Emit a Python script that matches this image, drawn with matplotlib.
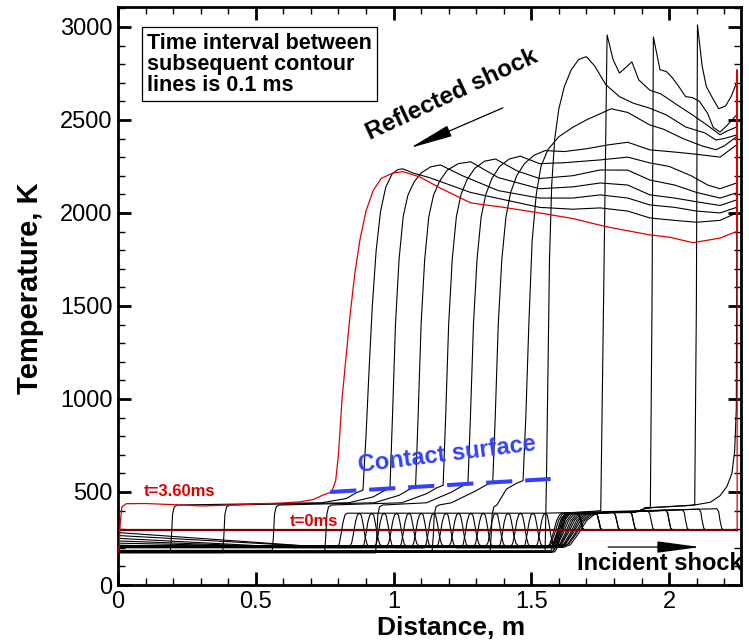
import matplotlib
matplotlib.use("Agg")
import matplotlib.pyplot as plt
from matplotlib.ticker import MultipleLocator

# ------------------------------------------------------------------
# Data (x in m, T in K)
# ------------------------------------------------------------------
X_WALL = 2.247
T_INITIAL = 295.0
T_WALL_TOP = 2770.0

x_ticks = [0, 0.5, 1, 1.5, 2]
x_tick_labels = ["0", "0.5", "1", "1.5", "2"]
y_ticks = [0, 500, 1000, 1500, 2000, 2500, 3000]
y_tick_labels = ["0", "500", "1000", "1500", "2000", "2500", "3000"]

# ---- incident-shock phase curves -------------------------------------------
fan_T0 = [282, 266, 251, 237, 225, 214, 205]          # T at x = 0 of the first curves
fan_x_end = [0.74, 0.70, 0.64, 0.56, 0.47, 0.36, 0.22]  # where they reach the cold band
inc_band_T = [204, 208, 201, 206, 210, 203, 207, 200, 205, 209, 202, 206, 211, 204, 208, 202, 206]
inc_bump_x = [0.830, 0.875, 0.920, 0.965, 1.010, 1.055, 1.100, 1.145, 1.190,
              1.235, 1.280, 1.325, 1.370, 1.415, 1.460, 1.505, 1.550]
inc_rise_x = [1.556, 1.560, 1.564, 1.568, 1.572, 1.576, 1.580, 1.584, 1.588,
              1.592, 1.596, 1.600, 1.604, 1.608, 1.612, 1.616, 1.620]
inc_rise_w = [0.055, 0.060, 0.065, 0.070, 0.075, 0.080, 0.085, 0.090, 0.095,
              0.100, 0.105, 0.110, 0.115, 0.120, 0.125, 0.130, 0.135]
inc_top_T = 386
inc_shock_x = [1.680, 1.745, 1.810, 1.870, 1.935, 2.000, 2.060, 2.120, 2.185]
inc_shock_T = [388, 390, 392, 395, 398, 402, 405, 408, 410]
inc_shock_of = [0, 0, 0, 0, 1, 1, 1, 2, 2, 3, 3, 4, 5, 5, 6, 7, 8]
# bump shape of the contact zone (offset from bump position, fraction of rise)
bump_dx = [-0.034, -0.027, -0.020, -0.013, -0.006, 0.002, 0.046, 0.053, 0.060, 0.067, 0.074, 0.082]
bump_frac = [0.0, 0.10, 0.40, 0.75, 0.95, 1.0, 1.0, 0.94, 0.65, 0.30, 0.08, 0.0]

# ---- reflected-shock phase curves (t = 2.4 ... 3.5 ms, black) --------------
refl_band_T = [178, 182, 175, 184, 180, 176, 183, 173, 179, 186, 174, 181]
refl_rise_x = [1.585, 1.580, 1.575, 1.570]      # t = 2.4 .. 2.7
refl_step = [True, True, True, False]
refl_xt = [1.35, 1.14, 0.935, 0.75, 0.56, 0.38, 0.19]   # t = 2.9 .. 3.5 transmitted front

hot_x_24 = [2.100, 2.150, 2.185, 2.210, 2.228, 2.238, 2.244, 2.247]
hot_T_24 = [432, 445, 480, 530, 600, 720, 950, 2390]
hot_x_25 = [2.093, 2.099, 2.103, 2.120, 2.135, 2.155, 2.180, 2.205, 2.225, 2.245]
hot_T_25 = [430, 1500, 3010, 2790, 2680, 2625, 2560, 2575, 2625, 2700]
hot_x_26 = [1.932, 1.938, 1.943, 1.967, 1.990, 2.010, 2.035, 2.060, 2.085, 2.110, 2.140,
            2.160, 2.185, 2.210, 2.245]
hot_T_26 = [418, 1500, 2946, 2770, 2760, 2730, 2680, 2625, 2620, 2600, 2535, 2460, 2435,
            2470, 2527]
hot_x_27 = [1.752, 1.762, 1.775, 1.797, 1.820, 1.845, 1.865, 1.890, 1.930, 1.970, 2.000,
            2.040, 2.085, 2.140, 2.185, 2.210, 2.245]
hot_T_27 = [400, 1500, 2957, 2823, 2752, 2785, 2812, 2715, 2660, 2640, 2610, 2570, 2527,
            2470, 2420, 2440, 2462]
hot_x_28 = [1.555, 1.560, 1.566, 1.574, 1.585, 1.600, 1.620, 1.645, 1.672, 1.700, 1.730,
            1.770, 1.820, 1.870, 1.930, 1.990, 2.060, 2.130, 2.170, 2.200, 2.245]
hot_T_28 = [570, 1100, 1750, 2150, 2400, 2560, 2680, 2770, 2825, 2840, 2790, 2690, 2625,
            2590, 2563, 2527, 2462, 2430, 2392, 2400, 2419]
hot_x_29 = [1.470, 1.480, 1.491, 1.503, 1.518, 1.535, 1.560, 1.600, 1.650, 1.700, 1.790,
            1.850, 1.930, 1.980, 2.050, 2.120, 2.170, 2.200, 2.245]
hot_T_29 = [561, 900, 1400, 1850, 2100, 2250, 2340, 2410, 2460, 2500, 2560, 2540, 2473,
            2450, 2400, 2360, 2340, 2360, 2410]
hot_x_30 = [1.360, 1.369, 1.380, 1.393, 1.408, 1.425, 1.447, 1.475, 1.510, 1.550, 1.620,
            1.700, 1.780, 1.850, 1.930, 2.000, 2.070, 2.130, 2.185, 2.245]
hot_T_30 = [552, 900, 1400, 1750, 1980, 2110, 2200, 2265, 2310, 2335, 2330, 2345, 2366,
            2380, 2339, 2330, 2320, 2310, 2300, 2366]
hot_x_31 = [1.270, 1.279, 1.290, 1.303, 1.318, 1.335, 1.357, 1.385, 1.420, 1.460, 1.530,
            1.620, 1.750, 1.850, 1.930, 2.000, 2.080, 2.140, 2.185, 2.245]
hot_T_31 = [544, 900, 1400, 1750, 1980, 2100, 2185, 2250, 2290, 2305, 2265, 2270, 2285,
            2300, 2269, 2250, 2200, 2150, 2130, 2161]
hot_x_32 = [1.180, 1.189, 1.200, 1.213, 1.228, 1.245, 1.267, 1.295, 1.330, 1.370, 1.450,
            1.530, 1.650, 1.750, 1.850, 1.930, 2.020, 2.100, 2.185, 2.245]
hot_T_32 = [536, 900, 1400, 1750, 1980, 2100, 2180, 2240, 2278, 2290, 2225, 2185, 2200,
            2231, 2230, 2177, 2150, 2110, 2080, 2108]
hot_x_33 = [1.080, 1.089, 1.100, 1.113, 1.128, 1.145, 1.167, 1.195, 1.235, 1.280, 1.380,
            1.530, 1.650, 1.750, 1.850, 1.930, 2.020, 2.100, 2.185, 2.245]
hot_T_33 = [527, 900, 1400, 1750, 1980, 2095, 2170, 2230, 2265, 2275, 2190, 2130, 2140,
            2161, 2150, 2097, 2080, 2060, 2040, 2070]
hot_x_34 = [0.987, 0.996, 1.007, 1.020, 1.035, 1.052, 1.074, 1.100, 1.135, 1.170, 1.250,
            1.380, 1.530, 1.650, 1.750, 1.850, 1.930, 2.020, 2.100, 2.185, 2.245]
hot_T_34 = [519, 900, 1400, 1750, 1980, 2095, 2165, 2215, 2248, 2258, 2200, 2120, 2080,
            2080, 2097, 2080, 2043, 2030, 2010, 2000, 2030]
hot_x_35 = [0.889, 0.900, 0.911, 0.923, 0.937, 0.953, 0.972, 0.995, 1.015, 1.034, 1.070,
            1.130, 1.280, 1.530, 1.650, 1.750, 1.850, 1.930, 2.020, 2.100, 2.185, 2.245]
hot_T_35 = [510, 800, 1150, 1500, 1800, 2010, 2140, 2210, 2233, 2237, 2215, 2190, 2110,
            2030, 2020, 2027, 2010, 1973, 1960, 1950, 1960, 2000]

# ---- t = 3.60 ms (red) -----------------------------------------------------
red_x = [0.000, 0.004, 0.008, 0.014, 0.030, 0.100, 0.200, 0.300, 0.420, 0.520, 0.590,
         0.660, 0.710, 0.745, 0.775, 0.790, 0.800, 0.813, 0.826, 0.842, 0.860, 0.878,
         0.900, 0.926, 0.955, 0.998, 1.034, 1.096, 1.169, 1.280, 1.400, 1.530, 1.650,
         1.775, 1.930, 2.000, 2.087, 2.185, 2.245]
red_T = [175, 200, 330, 420, 437, 438, 432, 425, 430, 437, 440, 447, 460, 484, 500, 560,
         700, 1000, 1200, 1450, 1680, 1855, 2010, 2120, 2185, 2215, 2222, 2193, 2134, 2054,
         2030, 2000, 1970, 1925, 1882, 1870, 1840, 1865, 1900]

# contact surface marker
contact_x = [0.77, 1.57]
contact_T = [500, 570]

# ------------------------------------------------------------------
NARROW = ["Liberation Sans Narrow", "Liberation Sans", "DejaVu Sans"]
BOLDF = ["Liberation Sans", "DejaVu Sans"]
RED = "#e00000"
BLUE = "#3340ff"

fig = plt.figure(figsize=(7.49, 6.43), dpi=100)
ax = fig.add_axes([118 / 749, 1 - 585 / 643, 623 / 749, 578 / 643])
ax.set_xlim(0, 2.261)
ax.set_ylim(0, 3107)

LW = 0.8


def line(xs, ts, **kw):
    opts = dict(color="black", lw=LW, solid_joinstyle="round")
    opts.update(kw)
    ax.plot(xs, ts, **opts)


# incident-phase curves
for k in range(len(inc_bump_x)):
    band = inc_band_T[k]
    xs, ts = [], []
    if k < len(fan_T0):
        xs += [0.0, fan_x_end[k]]
        ts += [fan_T0[k], band]
    else:
        xs += [0.0]
        ts += [band]
    b = inc_bump_x[k]
    rx = inc_rise_x[k]
    w = inc_rise_w[k]
    fall_ok = b + bump_dx[-1] < rx - 0.004
    for dx, f in zip(bump_dx, bump_frac):
        if not fall_ok and dx > 0.01:
            break
        xs.append(b + dx)
        ts.append(band + f * (inc_top_T - band))
    if fall_ok:
        for dx, f in zip([0.0, 0.2, 0.42, 0.65, 0.85, 1.0],
                         [0.0, 0.08, 0.40, 0.78, 0.95, 1.0]):
            xs.append(rx + dx * w)
            ts.append(band + f * (inc_top_T - band))
    s = inc_shock_of[k]
    xsh = inc_shock_x[s]
    xs += [xsh - 0.012, xsh - 0.005, xsh, xsh + 0.006, xsh + 0.013, X_WALL]
    ts += [inc_shock_T[s], inc_shock_T[s] - 15, 345, 305, 296, T_INITIAL]
    line(xs, ts)

# reflected-phase curves, shock still in the test gas (t = 2.4 .. 2.7)
hot_early = [(hot_x_24, hot_T_24), (hot_x_25, hot_T_25), (hot_x_26, hot_T_26),
             (hot_x_27, hot_T_27)]
for j, (hx, hT) in enumerate(hot_early):
    band = refl_band_T[j]
    rx = refl_rise_x[j]
    xs = [0.0, rx, rx + 0.012, rx + 0.025, rx + 0.04, rx + 0.055, rx + 0.07]
    ts = [band, band, band + 30, 290, 360, 383, 388]
    if refl_step[j]:
        xs += [1.870, 1.890, 1.910, 1.935]
        ts += [390, 398, 410, 416]
    xs += [hx[0] - 0.02]
    ts += [hT[0] - 3]
    line(xs + list(hx), ts + list(hT))

# t = 2.8 (reflected shock meets the contact surface)
line([0.0, 1.550] + hot_x_28, [refl_band_T[4], refl_band_T[4]] + hot_T_28)

# t = 2.9 .. 3.5 (transmitted front in the cold gas)
hot_late = [(hot_x_29, hot_T_29), (hot_x_30, hot_T_30), (hot_x_31, hot_T_31),
            (hot_x_32, hot_T_32), (hot_x_33, hot_T_33), (hot_x_34, hot_T_34),
            (hot_x_35, hot_T_35)]
for j, (hx, hT) in enumerate(hot_late):
    band = refl_band_T[5 + j]
    xt = refl_xt[j]
    foot, footT = hx[0], hT[0]
    xs = [0.0, xt, xt + 0.004, xt + 0.008, xt + 0.014, xt + 0.025]
    ts = [band, band, 260, 380, 420, 430]
    if foot - 0.15 > xt + 0.04:
        xs.append(foot - 0.15)
        ts.append(442)
    xs += [foot - 0.06, foot - 0.025]
    ts += [footT - 45, footT - 15]
    line(xs + list(hx), ts + list(hT))

# t = 0 initial state (dark red) and t = 3.60 ms (red)
ax.plot([0.0, X_WALL], [T_INITIAL, T_INITIAL], color="#7d0000", lw=1.6, zorder=4)
ax.plot(red_x + [X_WALL, X_WALL, X_WALL], red_T + [T_WALL_TOP, T_WALL_TOP, T_INITIAL - 5],
        color=RED, lw=0.9, zorder=5)

# contact surface dashes
ax.plot(contact_x, contact_T, color=BLUE, lw=2.9, ls=(0, (6.5, 3.2)), zorder=6,
        dash_capstyle="butt")

# ------------------------------------------------------------------
# axes styling
# ------------------------------------------------------------------
ax.set_xticks(x_ticks)
ax.set_xticklabels(x_tick_labels)
ax.set_yticks(y_ticks)
ax.set_yticklabels(y_tick_labels)
ax.xaxis.set_minor_locator(MultipleLocator(0.1))
ax.yaxis.set_minor_locator(MultipleLocator(100))
ax.tick_params(which="both", direction="in", top=True, right=True)
ax.tick_params(which="major", length=9.5, width=2.0, labelsize=17, pad=4)
ax.tick_params(which="minor", length=5.0, width=1.0)
for lbl in ax.get_xticklabels() + ax.get_yticklabels():
    lbl.set_family(NARROW)
for sp in ax.spines.values():
    sp.set_linewidth(2.0)

fig.text(451 / 749, 1 - 628 / 643, "Distance, m", ha="center", va="center",
         fontsize=19, fontweight="bold", family=NARROW)
fig.text(30 / 749, 1 - 288 / 643, "Temperature, K", ha="center", va="center",
         rotation=90, fontsize=21, fontweight="bold", family=NARROW)

# annotations
ax.text(0.105, 2968, "Time interval between\nsubsequent contour\nlines is 0.1 ms",
        ha="left", va="top", fontsize=15.5, fontweight="bold", family=BOLDF,
        linespacing=1.0, zorder=10,
        bbox=dict(boxstyle="square,pad=0.25", fc="white", ec="black", lw=0.9))

ax.text(1.212, 2634, "Reflected shock", ha="center", va="center", rotation=25,
        fontsize=17.5, fontweight="bold", family=BOLDF, zorder=10)
ax.annotate("", xy=(1.060, 2349), xytext=(1.397, 2565),
            arrowprops=dict(arrowstyle="-|>,head_length=2.7,head_width=0.36",
                            mutation_scale=10, color="black", lw=0.9,
                            shrinkA=0, shrinkB=0), zorder=10)

ax.text(1.194, 699, "Contact surface", ha="center", va="center", rotation=7,
        fontsize=17, fontweight="bold", family=BOLDF, color=BLUE, zorder=10)

ax.text(1.967, 118, "Incident shock", ha="center", va="center",
        fontsize=17, fontweight="bold", family=BOLDF, zorder=10)
ax.annotate("", xy=(2.113, 204), xytext=(1.779, 204),
            arrowprops=dict(arrowstyle="-|>,head_length=2.7,head_width=0.36",
                            mutation_scale=10, color="black", lw=0.9,
                            shrinkA=0, shrinkB=0), zorder=10)

ax.text(0.094, 500, "t=3.60ms", ha="left", va="center", fontsize=12,
        fontweight="bold", family=BOLDF, color=RED, zorder=10)
ax.text(0.624, 339, "t=0ms", ha="left", va="center", fontsize=12,
        fontweight="bold", family=BOLDF, color=RED, zorder=10)

fig.savefig("out.png", dpi=100)
